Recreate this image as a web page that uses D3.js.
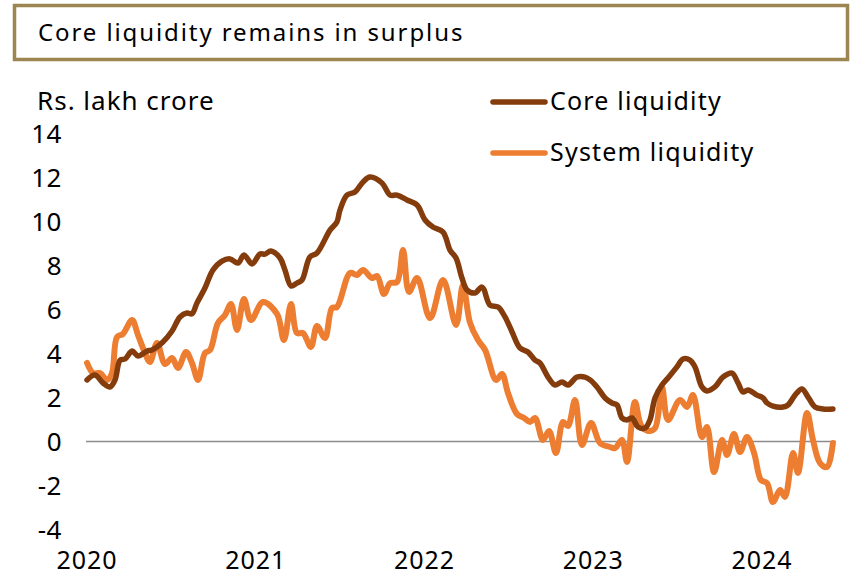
<!DOCTYPE html>
<html>
<head>
<meta charset="utf-8">
<style>
  body { margin: 0; background: #fff; }
  text { font-family: "Noto Sans", "Open Sans", sans-serif; fill: #000; }
</style>
</head>
<body>
<svg id="chart" width="850" height="577"></svg>
<script src="https://d3js.org/d3.v7.min.js"></script>
<script>
// values in Rs. lakh crore, time as decimal year
var coreT = [2020.00, 2020.047, 2020.095, 2020.136, 2020.166, 2020.196, 2020.225, 2020.267, 2020.302, 2020.356,
  2020.385, 2020.450, 2020.504, 2020.551, 2020.593, 2020.622, 2020.652, 2020.699, 2020.747, 2020.800,
  2020.847, 2020.895, 2020.930, 2020.978, 2021.025, 2021.055, 2021.090, 2021.144, 2021.173, 2021.209,
  2021.244, 2021.274, 2021.321, 2021.363, 2021.440, 2021.481, 2021.499, 2021.541, 2021.588, 2021.636,
  2021.677, 2021.748, 2021.796, 2021.837, 2021.896, 2021.956, 2022.003, 2022.050, 2022.110, 2022.151,
  2022.187, 2022.222, 2022.252, 2022.299, 2022.341, 2022.388, 2022.436, 2022.477, 2022.519, 2022.566,
  2022.613, 2022.655, 2022.684, 2022.732, 2022.773, 2022.815, 2022.850, 2022.904, 2022.951, 2022.981,
  2023.022, 2023.070, 2023.111, 2023.141, 2023.170, 2023.200, 2023.230, 2023.265, 2023.307, 2023.336,
  2023.366, 2023.407, 2023.443, 2023.496, 2023.532, 2023.573, 2023.603, 2023.644, 2023.674, 2023.721,
  2023.769, 2023.822, 2023.858, 2023.887, 2023.917, 2023.970, 2024.006, 2024.030, 2024.065, 2024.124,
  2024.154, 2024.196, 2024.237, 2024.273, 2024.314, 2024.361, 2024.420];
var coreV = [2.80, 3.02, 2.66, 2.48, 2.80, 3.70, 3.75, 4.11, 3.89, 4.11,
  4.16, 4.52, 5.02, 5.66, 5.84, 5.80, 6.30, 6.98, 7.80, 8.20,
  8.30, 8.11, 8.48, 8.07, 8.52, 8.52, 8.66, 8.34, 7.80, 7.07,
  7.20, 7.34, 8.39, 8.57, 9.61, 9.98, 10.52, 11.20, 11.34, 11.80,
  12.02, 11.75, 11.20, 11.20, 10.98, 10.75, 10.07, 9.75, 9.52, 8.70,
  8.34, 7.43, 6.89, 6.75, 7.02, 6.20, 6.11, 5.66, 4.98, 4.25,
  4.07, 3.70, 3.57, 2.93, 2.57, 2.70, 2.57, 2.93, 2.93, 2.80,
  2.48, 1.98, 1.75, 1.66, 1.07, 0.98, 1.07, 0.66, 0.61, 0.98,
  1.98, 2.57, 2.89, 3.39, 3.75, 3.70, 3.39, 2.48, 2.30, 2.48,
  2.93, 3.11, 2.66, 2.25, 2.34, 2.11, 1.98, 1.75, 1.61, 1.57,
  1.66, 2.11, 2.39, 2.02, 1.57, 1.48, 1.48];

var systemT = [2020.00, 2020.036, 2020.077, 2020.119, 2020.148, 2020.178, 2020.213, 2020.267, 2020.302, 2020.344,
  2020.373, 2020.415, 2020.462, 2020.504, 2020.539, 2020.587, 2020.622, 2020.658, 2020.699, 2020.729,
  2020.776, 2020.818, 2020.853, 2020.889, 2020.930, 2020.972, 2021.043, 2021.126, 2021.167, 2021.209,
  2021.244, 2021.280, 2021.327, 2021.363, 2021.410, 2021.452, 2021.481, 2021.559, 2021.600, 2021.636,
  2021.689, 2021.719, 2021.760, 2021.796, 2021.837, 2021.873, 2021.908, 2021.956, 2022.033, 2022.110,
  2022.187, 2022.228, 2022.270, 2022.317, 2022.359, 2022.424, 2022.459, 2022.495, 2022.548, 2022.590,
  2022.625, 2022.655, 2022.702, 2022.738, 2022.779, 2022.821, 2022.850, 2022.892, 2022.933, 2022.987,
  2023.040, 2023.099, 2023.129, 2023.170, 2023.200, 2023.247, 2023.283, 2023.324, 2023.366, 2023.407,
  2023.443, 2023.514, 2023.556, 2023.591, 2023.644, 2023.674, 2023.716, 2023.763, 2023.793, 2023.834,
  2023.870, 2023.911, 2023.953, 2023.994, 2024.030, 2024.065, 2024.107, 2024.136, 2024.184, 2024.213,
  2024.267, 2024.302, 2024.344, 2024.385, 2024.420];
var systemV = [3.57, 3.11, 3.11, 2.80, 3.11, 4.75, 4.89, 5.52, 4.84, 4.02,
  3.61, 4.48, 3.52, 3.80, 3.34, 4.07, 3.57, 2.80, 4.02, 4.16,
  5.39, 5.75, 6.25, 5.07, 6.48, 5.52, 6.34, 5.80, 4.61, 6.25,
  4.93, 4.93, 4.30, 5.25, 4.70, 6.07, 6.11, 7.66, 7.57, 7.80,
  7.43, 7.52, 6.70, 7.20, 7.25, 8.70, 6.80, 7.43, 5.61, 7.34,
  5.30, 7.11, 5.39, 4.61, 4.16, 2.80, 3.07, 2.20, 1.25, 1.07,
  0.89, 1.07, 0.07, 0.48, -0.52, 0.89, 0.70, 1.89, -0.16, 0.84,
  -0.07, -0.25, -0.30, 0.07, -0.93, 1.80, 0.75, 0.48, 0.61, 2.48,
  0.98, 1.89, 1.57, 2.11, 0.20, 0.66, -1.39, 0.07, -0.61, 0.34,
  -0.48, 0.20, -0.52, -1.75, -1.89, -2.75, -2.20, -2.52, -0.52, -1.43,
  1.30, 0.07, -0.98, -1.16, -0.07];

var yTicks = [-4, -2, 0, 2, 4, 6, 8, 10, 12, 14];
var xTicks = [2020, 2021, 2022, 2023, 2024];
var seriesNames = ["Core liquidity", "System liquidity"];
var seriesColors = ["#843c0c", "#ed7d31"];

var svg = d3.select("#chart");

// title box
svg.append("rect")
  .attr("x", 14.5).attr("y", 5.5)
  .attr("width", 833).attr("height", 54)
  .attr("fill", "#fff")
  .attr("stroke", "#9c8550")
  .attr("stroke-width", 3.5);

svg.append("text")
  .attr("x", 38).attr("y", 41)
  .attr("font-size", 24)
  .attr("letter-spacing", 1.9)
  .text("Core liquidity remains in surplus");

var x = d3.scaleLinear().domain([2020, 2025]).range([87, 930.75]);
var y = d3.scaleLinear().domain([-4, 14]).range([529.5, 133.5]);

// y tick labels
svg.append("g").selectAll("text")
  .data(yTicks)
  .enter()
  .append("text")
  .attr("x", 62)
  .attr("y", d => y(d))
  .attr("dy", "0.36em")
  .attr("text-anchor", "end")
  .attr("font-size", 26)
  .attr("letter-spacing", 0.5)
  .text(d => d);

// x tick labels
svg.append("g").selectAll("text")
  .data(xTicks)
  .enter()
  .append("text")
  .attr("x", d => x(d))
  .attr("y", 569)
  .attr("text-anchor", "middle")
  .attr("font-size", 25)
  .attr("letter-spacing", 1)
  .text(d => d);

svg.append("text")
  .attr("x", 37).attr("y", 110)
  .attr("font-size", 26)
  .attr("letter-spacing", 1)
  .text("Rs. lakh crore");

// zero line
svg.append("line")
  .attr("x1", 86).attr("x2", 836)
  .attr("y1", y(0)).attr("y2", y(0))
  .attr("stroke", "#8c8c8c")
  .attr("stroke-width", 1.5);

var line = d3.line()
  .x(d => x(d[0]))
  .y(d => y(d[1]))
  .curve(d3.curveCatmullRom.alpha(0.5));

var series = [
  d3.zip(coreT, coreV),
  d3.zip(systemT, systemV)
];

// draw system first so core sits on top
[1, 0].forEach(function (i) {
  svg.append("path")
    .datum(series[i])
    .attr("d", line)
    .attr("fill", "none")
    .attr("stroke", seriesColors[i])
    .attr("stroke-width", i === 0 ? 5.5 : 6)
    .attr("stroke-linejoin", "round")
    .attr("stroke-linecap", "round");
});

// legend
var legend = svg.append("g").selectAll("g")
  .data(seriesNames)
  .enter()
  .append("g")
  .attr("transform", (d, i) => "translate(0," + (102 + i * 51) + ")");

legend.append("line")
  .attr("x1", 493).attr("x2", 545)
  .attr("stroke", (d, i) => seriesColors[i])
  .attr("stroke-width", 5.5)
  .attr("stroke-linecap", "round");

legend.append("text")
  .attr("x", 550)
  .attr("y", 8)
  .attr("font-size", 25)
  .attr("letter-spacing", 1.2)
  .text(d => d);
</script>
</body>
</html>
